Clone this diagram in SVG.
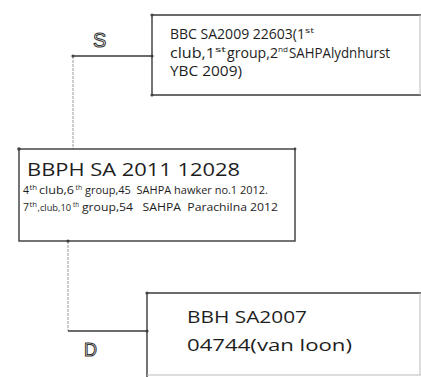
<svg xmlns="http://www.w3.org/2000/svg" width="421" height="377" viewBox="0 0 421 377">
<style>
.box{stroke:#3a3a3a;stroke-width:1.4;fill:none}
.faint{stroke:#bbb;stroke-width:1;fill:none}
.conn{stroke:#3a3a3a;stroke-width:1.4;fill:none}
.connv{stroke:#9a9a9a;stroke-width:1;fill:none;stroke-dasharray:3 1}
.dot{fill:#444}
text{font-family:"Open Sans","Liberation Sans",sans-serif;fill:#1e1e1e}
.t14{font-size:14px}
.s14{font-size:8px}
.t10{font-size:10.5px}
.s10{font-size:6.5px}
.sym{font-family:"Liberation Sans",sans-serif;fill:#fff;stroke:#333;stroke-width:1}
</style>
<rect width="421" height="377" fill="#fff"/>
<g id="connectors">
<path class="conn" d="M73 56 H152"/>
<path class="connv" d="M73 56 V149"/>
<path class="connv" d="M68 241 V331"/>
<path class="conn" d="M68 331 H147"/>
<circle class="dot" cx="73" cy="56" r="1.6"/>
<circle class="dot" cx="152" cy="56" r="1.6"/>
<circle class="dot" cx="68" cy="241" r="1.6"/>
<circle class="dot" cx="147" cy="331" r="1.6"/>
<text class="sym" x="93" y="47" font-size="20">S</text>
<text class="sym" x="84" y="356" font-size="18">D</text>
</g>
<g id="sire">
<path class="box" d="M421 15 H152 V95 H421"/>
<path class="faint" d="M420 15 V95"/>
<circle class="dot" cx="152" cy="15" r="1.6"/>
<circle class="dot" cx="152" cy="95" r="1.6"/>
<text class="t14" y="39"><tspan x="170" textLength="135" lengthAdjust="spacingAndGlyphs">BBC SA2009 22603(1</tspan><tspan class="s14" x="305" y="33" textLength="9" lengthAdjust="spacingAndGlyphs">st</tspan></text>
<text class="t14" y="58"><tspan x="170" textLength="45" lengthAdjust="spacingAndGlyphs">club,1</tspan><tspan class="s14" x="215" y="52" textLength="11" lengthAdjust="spacingAndGlyphs">st</tspan><tspan x="227" y="58" textLength="51" lengthAdjust="spacingAndGlyphs">group,2</tspan><tspan class="s14" x="278" y="52" textLength="10" lengthAdjust="spacingAndGlyphs">nd</tspan><tspan x="289" y="58" textLength="101" lengthAdjust="spacingAndGlyphs">SAHPAlydnhurst</tspan></text>
<text class="t14" x="170" y="76" textLength="72" lengthAdjust="spacingAndGlyphs">YBC 2009)</text>
</g>
<g id="subject">
<rect class="box" x="19" y="149" width="276" height="92"/>
<circle class="dot" cx="19" cy="149" r="1.8"/>
<circle class="dot" cx="295" cy="149" r="1.4"/>
<text x="27" y="176" font-size="19" textLength="213" lengthAdjust="spacingAndGlyphs">BBPH SA 2011 12028</text>
<text class="t10" y="193.5" xml:space="preserve"><tspan x="23">4</tspan><tspan class="s10" x="29.5" y="189.5" textLength="7.5" lengthAdjust="spacingAndGlyphs">th</tspan><tspan x="39" y="193.5" textLength="35" lengthAdjust="spacingAndGlyphs">club,6</tspan><tspan class="s10" x="75.5" y="189.5" textLength="6.5" lengthAdjust="spacingAndGlyphs">th</tspan><tspan x="85" y="193.5" textLength="183" lengthAdjust="spacingAndGlyphs">group,45  SAHPA hawker no.1 2012.</tspan></text>
<text class="t10" y="210.5" xml:space="preserve"><tspan x="23">7</tspan><tspan class="s10" x="29.5" y="206.5" textLength="7.5" lengthAdjust="spacingAndGlyphs">th</tspan><tspan x="37.5" y="210.5" font-size="9.5" textLength="33.5" lengthAdjust="spacingAndGlyphs">,club,10</tspan><tspan class="s10" x="73" y="206.5" textLength="6" lengthAdjust="spacingAndGlyphs">th</tspan><tspan x="82" y="210.5" textLength="196" lengthAdjust="spacingAndGlyphs">group,54   SAHPA  Parachilna 2012</tspan></text>
</g>
<g id="dam">
<path class="box" d="M421 293 H147 V377"/>
<path class="faint" d="M147 375 H421 M420 293 V375"/>
<circle class="dot" cx="147" cy="293" r="1.6"/>
<text x="187" y="323" font-size="17" textLength="120" lengthAdjust="spacingAndGlyphs">BBH SA2007</text>
<text x="187" y="351" font-size="17" textLength="165" lengthAdjust="spacingAndGlyphs">04744(van loon)</text>
</g>
</svg>
